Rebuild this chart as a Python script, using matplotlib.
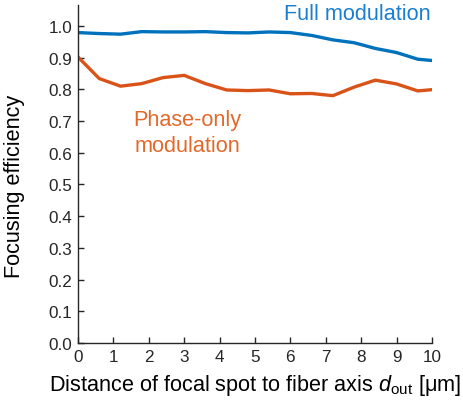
import matplotlib
matplotlib.use("Agg")
import matplotlib.pyplot as plt
import numpy as np

plt.rcParams['font.family'] = ['Liberation Sans', 'DejaVu Sans']
plt.rcParams['mathtext.fontset'] = 'custom'
plt.rcParams['mathtext.rm'] = 'Liberation Sans'
plt.rcParams['mathtext.it'] = 'Liberation Sans:italic'

x = [0, 0.6, 1.2, 1.8, 2.4, 3.0, 3.6, 4.2, 4.8, 5.4, 6.0, 6.6, 7.2, 7.8, 8.4, 9.0, 9.6, 10]
full = [0.979, 0.976, 0.974, 0.982, 0.981, 0.981, 0.982, 0.979, 0.978, 0.981, 0.979,
        0.970, 0.956, 0.947, 0.929, 0.916, 0.895, 0.891]
phase = [0.902, 0.834, 0.810, 0.818, 0.837, 0.844, 0.818, 0.798, 0.796, 0.798, 0.786,
         0.787, 0.780, 0.807, 0.829, 0.817, 0.795, 0.799]

blue = (0.0, 0.447, 0.741)
orange = (0.851, 0.325, 0.098)

fig = plt.figure(figsize=(4.63, 4.02), dpi=100)
ax = fig.add_axes([78/463, 1-344/402, (432-78)/463, (344-6)/402])
ax.plot(x, full, color=blue, lw=2.4, solid_joinstyle='round')
ax.plot(x, phase, color=orange, lw=2.4, solid_joinstyle='round')

ax.set_xlim(0, 10)
ax.set_ylim(0, 1.066)
ax.set_xticks(np.arange(0, 11, 1))
ax.set_yticks(np.round(np.arange(0, 1.01, 0.1), 1))
ax.set_yticklabels([f"{v:.1f}" for v in np.arange(0, 1.01, 0.1)])
for s in ['top', 'right']:
    ax.spines[s].set_visible(False)
for s in ['left', 'bottom']:
    ax.spines[s].set_color('#262626')
    ax.spines[s].set_linewidth(1.0)
ax.tick_params(direction='in', length=4, width=1, colors='#262626', labelsize=12.3, labelcolor='#262626', pad=4)

ax.text(7.88, 1.038, 'Full modulation', color='#1a7fcf', fontsize=15.6, ha='center', va='center')
ax.text(3.1, 0.663, 'Phase-only\nmodulation', color='#e2692b', fontsize=15.6, ha='center', va='center', linespacing=1.3)

ax.set_xlabel(r'Distance of focal spot to fiber axis $\mathit{d}_{\mathrm{out}}$ [μm]', fontsize=15.6)
ax.set_ylabel('Focusing efficiency', fontsize=15.6)
ax.xaxis.set_label_coords(0.5, (344-386)/338, transform=ax.transAxes)
ax.xaxis.label.set_va('center')
ax.yaxis.set_label_coords((15-78)/354, (344-186)/338, transform=ax.transAxes)
ax.yaxis.label.set_va('center')

fig.savefig('out.png', dpi=100)
